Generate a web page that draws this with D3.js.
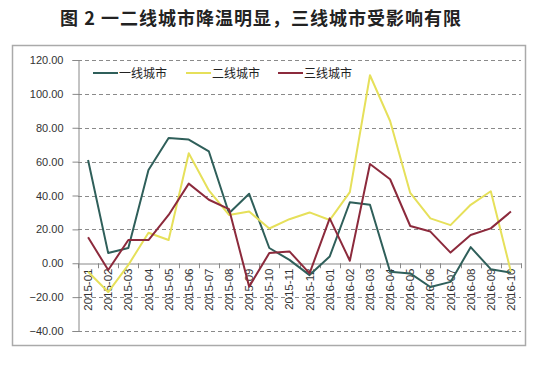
<!DOCTYPE html>
<html>
<head>
<meta charset="utf-8">
<script src="https://cdn.jsdelivr.net/npm/d3@7"></script>
<style>
  body { margin: 0; background: #fff; }
  text { font-family: "Liberation Sans", Arial, sans-serif; }
  .title { font-family: "Noto Sans CJK SC", sans-serif; font-weight: bold; }
  .legend text { font-family: "Noto Sans CJK SC", sans-serif; }
</style>
</head>
<body>
<div id="chart"></div>
<script>
// Categories (months)
const months = ['2015-01','2015-02','2015-03','2015-04','2015-05','2015-06','2015-07','2015-08','2015-09','2015-10','2015-11','2015-12',
  '2016-01','2016-02','2016-03','2016-04','2016-05','2016-06','2016-07','2016-08','2016-09','2016-10'];

// Series values
const tier1 = [61, 6, 9, 55, 74, 73, 66, 29.5, 41, 9, 2, -7, 4, 36, 34.5, -5, -6, -14, -11, 9.5, -3.5, -5.5];
const tier2 = [-5, -17, -1, 18, 13.7, 65, 43, 28.5, 30.5, 20.5, 26, 30, 25.5, 42, 111, 84, 41.5, 26.5, 22.5, 34.5, 42.5, -5];
const tier3 = [15.3, -4, 13.7, 13.7, 28.5, 47, 37.5, 32, -13.8, 6, 7, -6, 26.5, 1.5, 58.6, 49.6, 22, 18.7, 6.3, 16.7, 20.6, 30.5];

const yTicks = [120, 100, 80, 60, 40, 20, 0, -20, -40];
const seriesNames = ['一线城市', '二线城市', '三线城市'];
const colors = ['#2f5f5a', '#e6e05a', '#8c2a3c'];

const W = 550, H = 378;
const svg = d3.select('#chart').append('svg')
  .attr('width', W).attr('height', H);

// Title
svg.append('text')
  .attr('class', 'title')
  .attr('x', 261).attr('y', 25)
  .attr('text-anchor', 'middle')
  .style('font-size', '18px')
  .style('letter-spacing', '1px')
  .attr('fill', '#222')
  .text('图 2 一二线城市降温明显，三线城市受影响有限');

// Chart frame
svg.append('rect')
  .attr('x', 12.5).attr('y', 45.5)
  .attr('width', 513).attr('height', 300)
  .attr('fill', '#fff')
  .attr('stroke', '#aaa')
  .attr('stroke-width', 1.5);

const x = d3.scaleBand().domain(months).range([78, 521]);
const y = d3.scaleLinear().domain([-40, 120]).range([331, 60]);

// Gridlines
svg.append('g').selectAll('line')
  .data(yTicks.filter(d => d !== 0))
  .enter().append('line')
  .attr('x1', 78).attr('x2', 521)
  .attr('y1', d => Math.round(y(d)) + 0.5)
  .attr('y2', d => Math.round(y(d)) + 0.5)
  .attr('stroke', '#8a8a8a')
  .attr('stroke-dasharray', '4,3');

// Y axis
const yAxis = svg.append('g')
  .attr('transform', 'translate(78.5,0)')
  .call(d3.axisLeft(y).tickValues(yTicks).tickFormat(d3.format('.2f')).tickSize(6).tickPadding(9));
yAxis.select('.domain').attr('stroke', '#888');
yAxis.selectAll('.tick line').attr('stroke', '#888');
yAxis.selectAll('.tick text').attr('fill', '#333').style('font-size', '11px');

// X axis at zero
const xAxis = svg.append('g')
  .attr('transform', `translate(0,${Math.round(y(0)) + 0.5})`)
  .call(d3.axisBottom(x).tickSize(0).tickPadding(0));
xAxis.select('.domain').attr('stroke', '#888');
xAxis.selectAll('.tick text')
  .attr('transform', 'translate(0,5) rotate(-90)')
  .attr('x', 0).attr('y', 0).attr('dy', '0.35em')
  .style('text-anchor', 'end')
  .style('font-size', '11.5px')
  .attr('fill', '#333');

// Tick marks between categories
svg.append('g').selectAll('line')
  .data(d3.range(months.length + 1))
  .enter().append('line')
  .attr('x1', i => Math.round(78 + i * x.step()) + 0.5)
  .attr('x2', i => Math.round(78 + i * x.step()) + 0.5)
  .attr('y1', y(0)).attr('y2', y(0) + 5)
  .attr('stroke', '#888');

// Lines
const line = d3.line()
  .x((d, i) => x(months[i]) + x.bandwidth() / 2)
  .y(d => y(d));

[tier1, tier2, tier3].forEach((s, k) => {
  svg.append('path')
    .datum(s)
    .attr('fill', 'none')
    .attr('stroke', colors[k])
    .attr('stroke-width', 2)
    .attr('stroke-linejoin', 'round')
    .attr('d', line);
});

// Legend
const legendX = [93, 186, 278];
const legend = svg.append('g').attr('class', 'legend');
seriesNames.forEach((name, k) => {
  legend.append('line')
    .attr('x1', legendX[k]).attr('x2', legendX[k] + 25)
    .attr('y1', 73).attr('y2', 73)
    .attr('stroke', colors[k]).attr('stroke-width', 2);
  legend.append('text')
    .attr('x', legendX[k] + 26).attr('y', 77.5)
    .style('font-size', '12px')
    .attr('fill', '#222')
    .text(name);
});
</script>
</body>
</html>
